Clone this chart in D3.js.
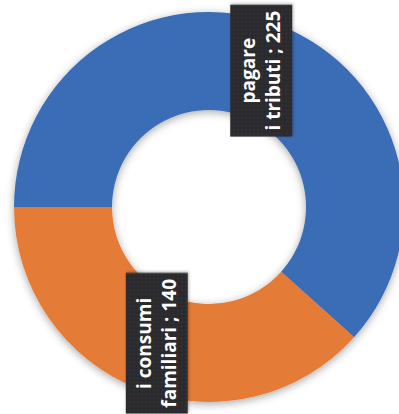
<!DOCTYPE html>
<html>
<head>
<meta charset="utf-8">
<script src="https://cdn.jsdelivr.net/npm/d3@7"></script>
<style>
  html, body { margin: 0; padding: 0; background: #ffffff; overflow: hidden; }
  svg { display: block; }
</style>
</head>
<body>
<svg id="chart" width="399" height="414"></svg>
<script>
// ---- data ----
const categories = ["pagare i tributi", "i consumi familiari"];
const values = [225, 140];
const labelLines = [["pagare", "i tributi ; 225"], ["i consumi", "familiari ; 140"]];
const colors = ["#3a6cb6", "#e47b37"];

const W = 399, H = 414;
const cx = 209, cy = 207;
const outerR = 195, innerR = 97;

const svg = d3.select("#chart");
const defs = svg.append("defs");

const shadow = defs.append("filter").attr("id", "shadow")
  .attr("x", "-20%").attr("y", "-20%").attr("width", "140%").attr("height", "140%");
shadow.append("feDropShadow").attr("dx", 0).attr("dy", 2)
  .attr("stdDeviation", 4).attr("flood-color", "#000").attr("flood-opacity", 0.35);

const lshadow = defs.append("filter").attr("id", "lshadow")
  .attr("x", "-20%").attr("y", "-20%").attr("width", "140%").attr("height", "140%");
lshadow.append("feDropShadow").attr("dx", 1).attr("dy", 1)
  .attr("stdDeviation", 1.5).attr("flood-color", "#000").attr("flood-opacity", 0.3);

const pat = defs.append("pattern").attr("id", "dots").attr("patternUnits", "userSpaceOnUse")
  .attr("width", 4).attr("height", 4);
pat.append("rect").attr("width", 4).attr("height", 4).attr("fill", "#2b2c2e");
pat.append("circle").attr("cx", 1).attr("cy", 1).attr("r", 0.6).attr("fill", "#45474a");

const pie = d3.pie().sort(null).value(d => d)
  .startAngle(-Math.PI / 2).endAngle(3 * Math.PI / 2);
const arcs = pie(values);
const arc = d3.arc().innerRadius(innerR).outerRadius(outerR);

const g = svg.append("g").attr("transform", `translate(${cx},${cy})`);

g.append("g").attr("filter", "url(#shadow)")
  .selectAll("path").data(arcs).join("path")
  .attr("d", arc)
  .attr("fill", (d, i) => colors[i]);

// labels at centroids, rotated -90
const fs = 19, lh = 25, padX = 6, padY = 6;
arcs.forEach((d, i) => {
  const [x, y] = arc.centroid(d);
  const lg = g.append("g").attr("transform", `translate(${x},${y}) rotate(-90)`);
  const bg = lg.append("rect");
  const t = lg.append("text")
    .attr("text-anchor", "middle")
    .attr("font-family", "'Open Sans', sans-serif")
    .attr("font-weight", "bold")
    .attr("font-size", fs)
    .attr("fill", "#ffffff");
  const lines = labelLines[i];
  lines.forEach((s, k) => {
    t.append("tspan").attr("x", 0)
      .attr("y", (k - (lines.length - 1) / 2) * lh)
      .attr("dy", "0.35em")
      .text(s);
  });
  const bb = t.node().getBBox();
  bg.attr("x", bb.x - padX).attr("y", -(lines.length * lh) / 2 - padY)
    .attr("width", bb.width + 2 * padX)
    .attr("height", lines.length * lh + 2 * padY)
    .attr("fill", "url(#dots)")
    .attr("filter", "url(#lshadow)");
});
</script>
</body>
</html>
